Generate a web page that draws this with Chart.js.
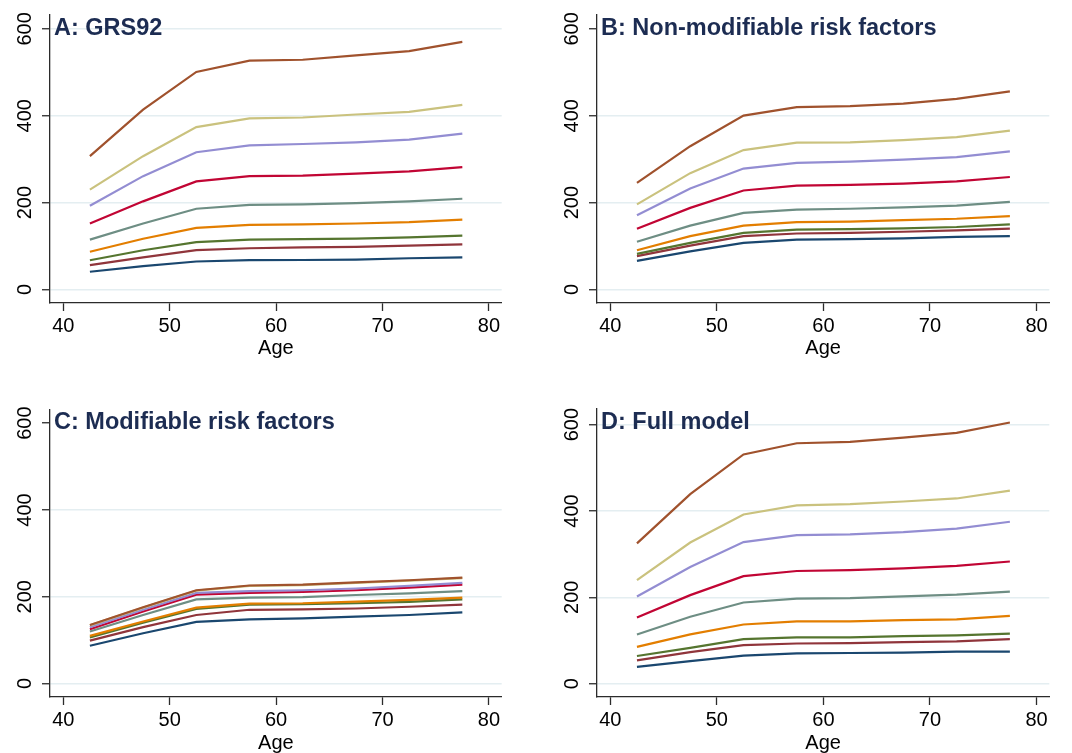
<!DOCTYPE html>
<html>
<head>
<meta charset="utf-8">
<script src="https://cdn.jsdelivr.net/npm/chart.js@4.4.1/dist/chart.umd.min.js"></script>
<style>
  html, body { margin: 0; padding: 0; background: #fff; }
  #wrap { position: relative; width: 1072px; height: 753px; overflow: hidden; }
  .panel { position: absolute; width: 536px; }
</style>
</head>
<body>
<div id="wrap">
  <div class="panel" style="left:0;top:0;height:376px"><canvas id="chartA"></canvas></div>
  <div class="panel" style="left:536px;top:0;height:376px"><canvas id="chartB"></canvas></div>
  <div class="panel" style="left:0;top:376px;height:377px"><canvas id="chartC"></canvas></div>
  <div class="panel" style="left:536px;top:376px;height:377px"><canvas id="chartD"></canvas></div>
</div>
<script>
// x positions (age bands) and ticks
const ages = [42.5, 47.5, 52.5, 57.5, 62.5, 67.5, 72.5, 77.5];
const xTicks = [40, 50, 60, 70, 80];
const yTicks = [0, 200, 400, 600];

// series, bottom line to top line
const groupNames = ['Group 1', 'Group 2', 'Group 3', 'Group 4', 'Group 5', 'Group 6', 'Group 7', 'Group 8', 'Group 9'];
const lineColors = ['#1a476f', '#90353b', '#55752f', '#e37e00', '#6e8e84', '#c10534', '#938dd2', '#cac27e', '#a0522d'];

// A: GRS92
const grsValues = [
  [41, 54, 64.5, 67.5, 68, 69, 72, 74],
  [56, 74, 90.5, 95, 97, 98, 101, 104],
  [67.5, 90.5, 109, 115, 116, 117, 120, 124],
  [87, 117, 142, 149, 150, 152, 155, 161],
  [115, 152, 186, 195, 196, 199, 203, 209],
  [152, 203, 249, 261, 262, 267, 272, 282],
  [193, 261, 316, 332, 335, 339, 345, 359],
  [230, 307, 374, 394, 396, 403, 409, 425],
  [307, 414, 501, 527, 529, 539, 549, 570]
];

// B: Non-modifiable risk factors
const nonModValues = [
  [66, 88, 107.5, 115, 116, 118, 121, 123],
  [77, 101, 123, 129, 130.5, 133, 136, 140],
  [82, 107.5, 130.5, 138, 139, 141, 144, 150],
  [90.5, 123, 147, 155, 156.5, 160, 163, 169],
  [110, 147, 176.5, 184, 186, 189, 193, 202],
  [140, 188, 228, 239, 241, 244, 249, 259],
  [171, 232.5, 278.5, 291.5, 294.5, 299, 305, 318],
  [196, 268, 321, 338, 339, 344, 351, 366],
  [245.5, 330, 400.5, 420, 422, 428, 439, 456]
];

// C: Modifiable risk factors
const modValues = [
  [87, 116, 142, 148, 150, 154, 158, 164],
  [99, 130, 158, 170, 171, 173, 177, 182],
  [106, 140, 172, 182, 183, 185, 188, 194],
  [110, 143, 175, 184, 185, 189, 193, 198],
  [120, 158, 194, 198, 199, 204, 208, 213],
  [125, 166, 205, 209, 211, 215, 221, 228],
  [130, 170, 209, 213, 215, 219, 225, 232],
  [134, 175, 214, 225, 227, 232, 237, 243],
  [135, 176, 215, 226, 228, 233, 238, 244]
];

// D: Full model
const fullValues = [
  [39, 52, 65, 70, 71, 72, 74, 74],
  [54, 73, 89, 93, 94, 96, 98, 103],
  [64, 83, 103, 107, 107, 110, 112, 116],
  [85, 114, 137, 144, 144, 147, 149, 157],
  [114, 155, 188, 197, 198, 202, 206, 213],
  [153, 205, 249, 261, 263, 267, 273, 283],
  [202, 270, 328, 344, 346, 351, 359, 375],
  [240, 327, 392, 413, 416, 422, 429, 447],
  [325, 439, 531, 557, 560, 570, 581, 605]
];

const fam = '"Liberation Sans", Arial, Helvetica, sans-serif';
const axisColor = '#2b2b2b';
const gridColor = '#e4eef1';
const titleColor = '#1c2c52';

const panelTitle = {
  id: 'panelTitle',
  afterDatasetsDraw(chart, args, opts) {
    const { ctx, chartArea } = chart;
    ctx.save();
    ctx.font = 'bold 23.5px ' + fam;
    ctx.fillStyle = titleColor;
    ctx.textAlign = 'left';
    ctx.textBaseline = 'alphabetic';
    ctx.fillText(opts.text, chartArea.left + 4, chartArea.top + 20);
    ctx.restore();
  }
};

function buildChart(id, title, rows, p) {
  const datasets = rows.map((vals, i) => ({
    label: groupNames[i],
    data: vals.map((v, j) => ({ x: ages[j], y: v })),
    borderColor: lineColors[i],
    borderWidth: 2.2,
    pointRadius: 0,
    tension: 0,
    fill: false,
    order: rows.length - i
  }));

  return new Chart(document.getElementById(id), {
    type: 'line',
    data: { datasets: datasets },
    options: {
      responsive: true,
      maintainAspectRatio: false,
      animation: false,
      layout: { padding: { left: 0, top: p.top, right: p.right, bottom: 0 } },
      plugins: {
        legend: { display: false },
        tooltip: { enabled: false },
        panelTitle: { text: title }
      },
      scales: {
        x: {
          type: 'linear',
          min: 38.75,
          max: 81.2,
          afterBuildTicks: s => { s.ticks = xTicks.map(v => ({ value: v })); },
          afterFit: s => { s.height = p.xh; },
          grid: { drawOnChartArea: false, drawTicks: true, tickLength: 8, tickColor: axisColor, tickWidth: 1.3 },
          border: { color: axisColor, width: 1.3 },
          ticks: { color: '#000', font: { family: fam, size: 20 }, padding: 3, maxRotation: 0, autoSkip: false },
          title: {
            display: true, text: 'Age', color: '#000',
            font: { family: fam, size: 20, lineHeight: 1 },
            padding: { top: 0, bottom: p.ageb }
          }
        },
        y: {
          type: 'linear',
          min: -31,
          max: p.ymax,
          afterBuildTicks: s => { s.ticks = yTicks.map(v => ({ value: v })); },
          afterFit: s => { s.width = p.left; },
          grid: {
            color: c => (p.hideTop && c.tick && c.tick.value === 600) ? 'rgba(0,0,0,0)' : gridColor,
            lineWidth: 1.5,
            tickLength: 8,
            tickColor: axisColor,
            tickWidth: 1.3
          },
          border: { color: axisColor, width: 1.3 },
          ticks: {
            color: '#000', font: { family: fam, size: 20 }, padding: 0,
            minRotation: 90, maxRotation: 90, crossAlign: 'center', autoSkip: false
          }
        }
      }
    },
    plugins: [panelTitle]
  });
}

buildChart('chartA', 'A: GRS92', grsValues, { left: 50, top: 15, right: 34.3, xh: 73, ageb: 17.7, ymax: 632, hideTop: false });
buildChart('chartB', 'B: Non-modifiable risk factors', nonModValues, { left: 61, top: 15, right: 22.7, xh: 73, ageb: 17.7, ymax: 632, hideTop: true });
buildChart('chartC', 'C: Modifiable risk factors', modValues, { left: 50, top: 33.3, right: 34.3, xh: 56, ageb: 0, ymax: 632, hideTop: true });
buildChart('chartD', 'D: Full model', fullValues, { left: 61, top: 32.7, right: 22.7, xh: 56, ageb: 0, ymax: 637, hideTop: false });
</script>
</body>
</html>
